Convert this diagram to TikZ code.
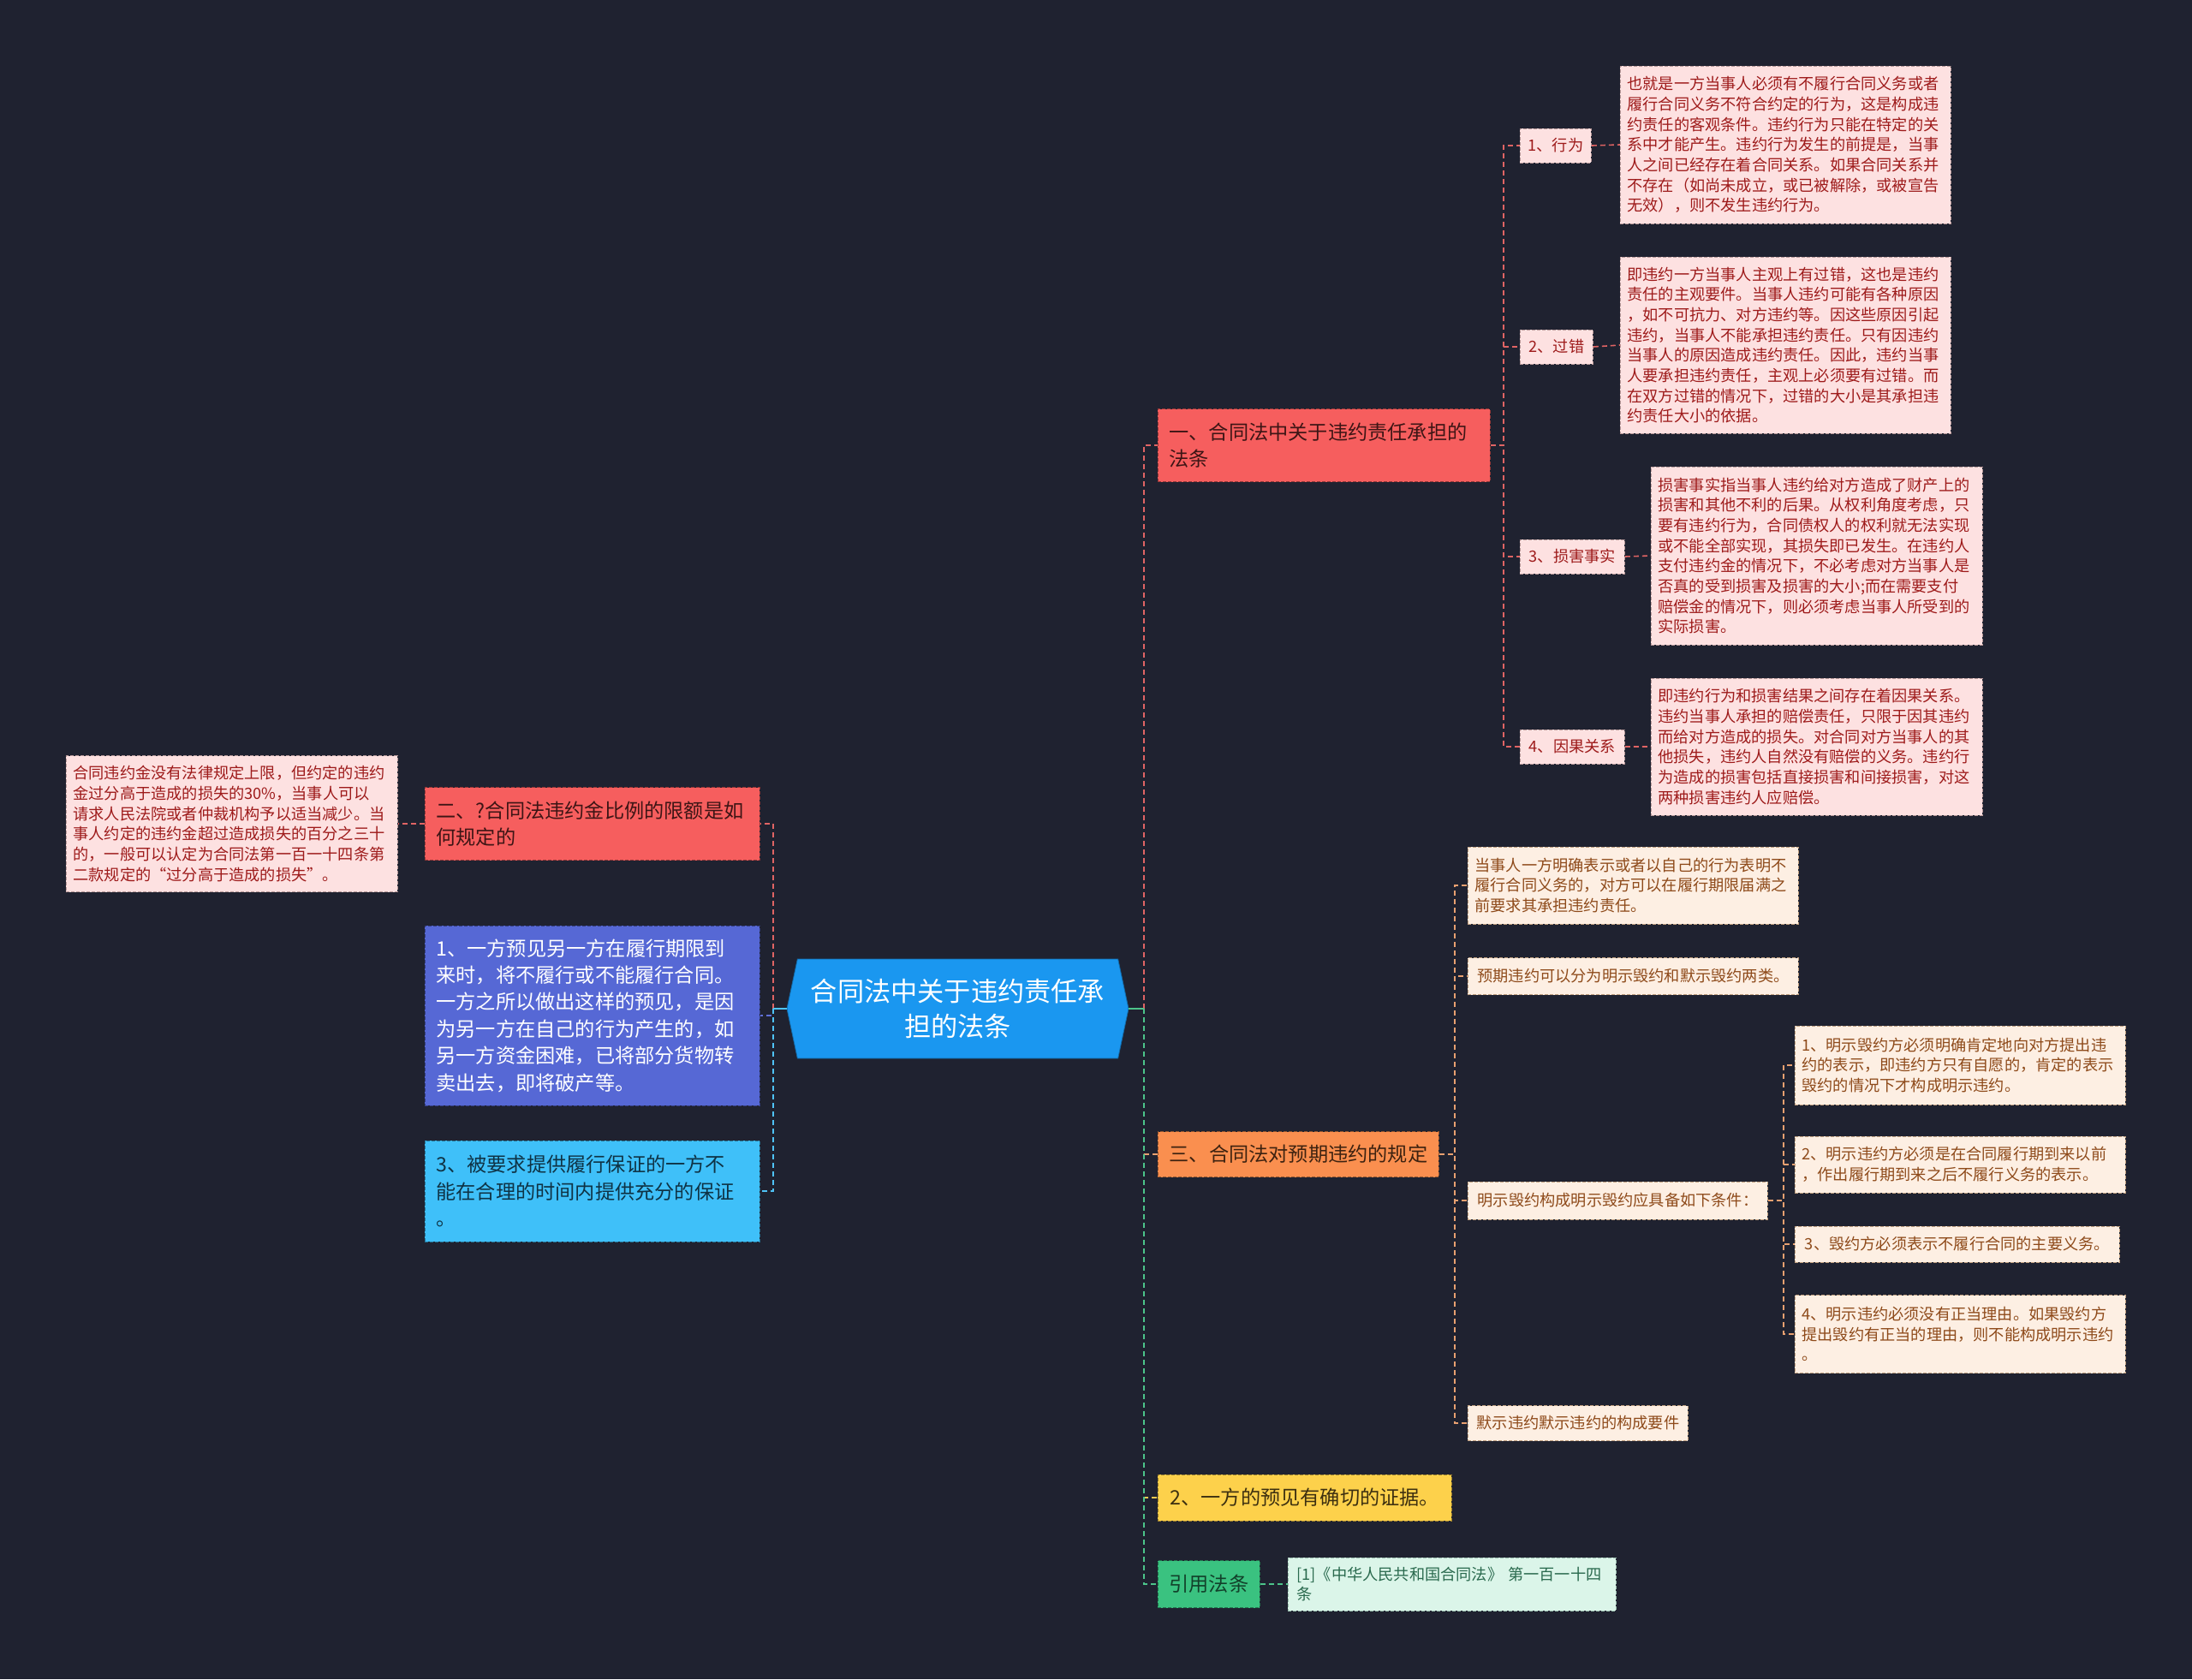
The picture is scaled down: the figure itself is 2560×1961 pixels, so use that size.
\documentclass[tikz,border=0pt]{standalone}
\usepackage{fontspec}
\setmainfont{Noto Sans CJK SC}
\usetikzlibrary{shapes.symbols,positioning}

\definecolor{bgnavy}{HTML}{1F2230}
\definecolor{rootblue}{HTML}{1A97F0}
\definecolor{redfill}{HTML}{F65E5E}
\definecolor{redtext}{HTML}{3D1515}
\definecolor{orafill}{HTML}{FA8F4F}
\definecolor{oratext}{HTML}{3D2210}
\definecolor{yelfill}{HTML}{FDD14B}
\definecolor{yeltext}{HTML}{3D3010}
\definecolor{grnfill}{HTML}{3AC280}
\definecolor{grntext}{HTML}{12402A}
\definecolor{indfill}{HTML}{5668D5}
\definecolor{skyfill}{HTML}{3FC0F9}
\definecolor{skytext}{HTML}{0F3345}
\definecolor{pinkfill}{HTML}{FDE1E1}
\definecolor{pinktext}{HTML}{9E1B1B}
\definecolor{pinkedge}{HTML}{B89A9A}
\definecolor{peachfill}{HTML}{FDEFE3}
\definecolor{peachtext}{HTML}{8E4A1A}
\definecolor{peachedge}{HTML}{C0A080}
\definecolor{mintfill}{HTML}{DBF5E9}
\definecolor{minttext}{HTML}{2A6A4E}
\definecolor{mintedge}{HTML}{9ABFAE}
\definecolor{linered}{HTML}{E06464}
\definecolor{lineora}{HTML}{E8A070}
\definecolor{lineyel}{HTML}{F0C850}
\definecolor{linegrn}{HTML}{4CC48A}
\definecolor{lineind}{HTML}{6070D8}
\definecolor{linesky}{HTML}{4FC3F7}

\newcommand\leafsize{\fontsize{9.1pt}{11.85pt}\selectfont}
\newcommand\branchsize{\fontsize{11.6pt}{15.7pt}\selectfont}
\newcommand\rootsize{\fontsize{15.6pt}{20.4pt}\selectfont}

\begin{document}
\begin{tikzpicture}[x=0.5pt,y=-0.5pt,
	box/.style={draw, dash pattern=on 2pt off 1pt, line width=0.4pt, inner xsep=6.5pt, inner ysep=0pt, align=left, anchor=west},
	root/.style={shape=signal, signal to=west and east, signal pointer angle=156, fill=rootblue, draw=rootblue!70!black, text=white, font=\rootsize, align=center, minimum width=199.5pt, minimum height=58pt, inner sep=0pt},
	redmain/.style={box, fill=redfill, draw=redfill!60!black, text=redtext, font=\branchsize},
	oramain/.style={box, fill=orafill, draw=orafill!60!black, text=oratext, font=\branchsize},
	yelmain/.style={box, fill=yelfill, draw=yelfill!60!black, text=yeltext, font=\branchsize},
	grnmain/.style={box, fill=grnfill, draw=grnfill!60!black, text=grntext, font=\branchsize},
	indmain/.style={box, fill=indfill, draw=indfill!60!black, text=white, font=\branchsize},
	skymain/.style={box, fill=skyfill, draw=skyfill!60!black, text=skytext, font=\branchsize},
	leafred/.style={box, inner xsep=4pt, fill=pinkfill, draw=pinkedge, text=pinktext, font=\leafsize},
	leafora/.style={box, inner xsep=4pt, fill=peachfill, draw=peachedge, text=peachtext, font=\leafsize},
	leafgrn/.style={box, inner xsep=5pt, fill=mintfill, draw=mintedge, text=minttext, font=\leafsize},
	link/.style={dash pattern=on 3pt off 2pt, line width=0.8pt},
	redline/.style={link, draw=linered},
	oraline/.style={link, draw=lineora},
	yelline/.style={link, draw=lineyel},
	grnline/.style={link, draw=linegrn},
	indline/.style={link, draw=lineind},
	skyline/.style={link, draw=linesky}]

	\useasboundingbox (0,0) rectangle (2560,1961);
	\fill[bgnavy] (0,0) rectangle (2560,1961);

	\node[root] (root) at (1118.5,1178) {合同法中关于违约责任承\\担的法条};
	\coordinate (rhub) at (1336,1178);
	\coordinate (lhub) at (903,1178);

	% right side
	\node[redmain, text width=181pt, minimum height=42.5pt] (r1) at (1352,520) {一、合同法中关于违约责任承担的\\法条};
	\node[oramain, minimum width=164pt, minimum height=26.5pt] (r2) at (1352,1348) {三、合同法对预期违约的规定};
	\node[yelmain, minimum width=171.5pt, minimum height=27pt] (r3) at (1352,1749) {2、一方的预见有确切的证据。};
	\node[grnmain, minimum width=59pt, minimum height=27.5pt] (r4) at (1352,1850) {引用法条};
	\node[leafgrn, text width=181.5pt, minimum height=31pt] (cite) at (1504,1850) {[1]《中华人民共和国合同法》 第一百一十四\\条};

	\node[leafred, minimum width=41.5pt, minimum height=20pt] (a1) at (1775,170) {1、行为};
	\node[leafred, text width=185pt, minimum height=92pt] (a1t) at (1892,169) {也就是一方当事人必须有不履行合同义务或者\\履行合同义务不符合约定的行为，这是构成违\\约责任的客观条件。违约行为只能在特定的关\\系中才能产生。违约行为发生的前提是，当事\\人之间已经存在着合同关系。如果合同关系并\\不存在（如尚未成立，或已被解除，或被宣告\\无效），则不发生违约行为。};
	\node[leafred, minimum width=42.5pt, minimum height=20pt] (a2) at (1775,405) {2、过错};
	\node[leafred, text width=185pt, minimum height=103pt] (a2t) at (1892,403) {即违约一方当事人主观上有过错，这也是违约\\责任的主观要件。当事人违约可能有各种原因\\，如不可抗力、对方违约等。因这些原因引起\\违约，当事人不能承担违约责任。只有因违约\\当事人的原因造成违约责任。因此，违约当事\\人要承担违约责任，主观上必须要有过错。而\\在双方过错的情况下，过错的大小是其承担违\\约责任大小的依据。};
	\node[leafred, minimum width=61pt, minimum height=20pt] (a3) at (1775,650) {3、损害事实};
	\node[leafred, text width=185.5pt, minimum height=104pt] (a3t) at (1928,649) {损害事实指当事人违约给对方造成了财产上的\\损害和其他不利的后果。从权利角度考虑，只\\要有违约行为，合同债权人的权利就无法实现\\或不能全部实现，其损失即已发生。在违约人\\支付违约金的情况下，不必考虑对方当事人是\\否真的受到损害及损害的大小;而在需要支付\\赔偿金的情况下，则必须考虑当事人所受到的\\实际损害。};
	\node[leafred, minimum width=61pt, minimum height=20pt] (a4) at (1775,872) {4、因果关系};
	\node[leafred, text width=185.5pt, minimum height=80pt] (a4t) at (1928,872) {即违约行为和损害结果之间存在着因果关系。\\违约当事人承担的赔偿责任，只限于因其违约\\而给对方造成的损失。对合同对方当事人的其\\他损失，违约人自然没有赔偿的义务。违约行\\为造成的损害包括直接损害和间接损害，对这\\两种损害违约人应赔偿。};

	\node[leafora, text width=185pt, minimum height=45pt] (b1) at (1714,1034) {当事人一方明确表示或者以自己的行为表明不\\履行合同义务的，对方可以在履行期限届满之\\前要求其承担违约责任。};
	\node[leafora, minimum width=193pt, minimum height=21.5pt] (b2) at (1714,1140) {预期违约可以分为明示毁约和默示毁约两类。};
	\node[leafora, minimum width=175pt, minimum height=22pt] (b3) at (1714,1402) {明示毁约构成明示毁约应具备如下条件：};
	\node[leafora, minimum width=128.5pt, minimum height=20.5pt] (b4) at (1714,1662) {默示违约默示违约的构成要件};
	\node[leafora, text width=185pt, minimum height=46pt] (c1) at (2096,1244) {1、明示毁约方必须明确肯定地向对方提出违\\约的表示，即违约方只有自愿的，肯定的表示\\毁约的情况下才构成明示违约。};
	\node[leafora, text width=185pt, minimum height=33pt] (c2) at (2096,1360) {2、明示违约方必须是在合同履行期到来以前\\，作出履行期到来之后不履行义务的表示。};
	\node[leafora, minimum width=189.5pt, minimum height=21pt] (c3) at (2096,1453) {3、毁约方必须表示不履行合同的主要义务。};
	\node[leafora, text width=185pt, minimum height=45.5pt] (c4) at (2096,1558) {4、明示违约必须没有正当理由。如果毁约方\\提出毁约有正当的理由，则不能构成明示违约\\。};

	% left side
	\node[redmain, text width=182.5pt, minimum height=42.5pt] (l1) at (496,962) {二、?合同法违约金比例的限额是如\\何规定的};
	\node[leafred, text width=185.5pt, minimum height=79.5pt] (l1t) at (77,962) {合同违约金没有法律规定上限，但约定的违约\\金过分高于造成的损失的30\%，当事人可以\\请求人民法院或者仲裁机构予以适当减少。当\\事人约定的违约金超过造成损失的百分之三十\\的，一般可以认定为合同法第一百一十四条第\\二款规定的“过分高于造成的损失”。};
	\node[indmain, text width=182.5pt, minimum height=105pt] (l2) at (496,1186) {1、一方预见另一方在履行期限到\\来时，将不履行或不能履行合同。\\一方之所以做出这样的预见，是因\\为另一方在自己的行为产生的，如\\另一方资金困难，已将部分货物转\\卖出去，即将破产等。};
	\node[skymain, text width=182.5pt, minimum height=59pt] (l3) at (496,1391) {3、被要求提供履行保证的一方不\\能在合理的时间内提供充分的保证\\。};

	\draw[redline] (rhub) |- (r1.west);
	\draw[oraline] (rhub) |- (r2.west);
	\draw[yelline] (rhub) |- (r3.west);
	\draw[grnline] (rhub) |- (r4.west);
	\draw[linegrn, line width=0.8pt] (root.east) -- (rhub);
	\draw[grnline] (r4.east) -- (cite.west);

	\draw[redline] (r1.east) -- ++(15,0) |- (a1.west);
	\draw[redline] (r1.east) -- ++(15,0) |- (a2.west);
	\draw[redline] (r1.east) -- ++(15,0) |- (a3.west);
	\draw[redline] (r1.east) -- ++(15,0) |- (a4.west);
	\draw[redline] (a1.east) -- (a1t.west)
		(a2.east) -- (a2t.west)
		(a3.east) -- (a3t.west)
		(a4.east) -- (a4t.west);

	\draw[oraline] (r2.east) -- ++(18,0) |- (b1.west);
	\draw[oraline] (r2.east) -- ++(18,0) |- (b2.west);
	\draw[oraline] (r2.east) -- ++(18,0) |- (b3.west);
	\draw[oraline] (r2.east) -- ++(18,0) |- (b4.west);
	\draw[oraline] (b3.east) -- ++(18,0) |- (c1.west);
	\draw[oraline] (b3.east) -- ++(18,0) |- (c2.west);
	\draw[oraline] (b3.east) -- ++(18,0) |- (c3.west);
	\draw[oraline] (b3.east) -- ++(18,0) |- (c4.west);

	\draw[redline] (lhub) |- (l1.east);
	\draw[indline] (lhub) |- (l2.east);
	\draw[skyline] (lhub) |- (l3.east);
	\draw[linesky, line width=0.8pt] (root.west) -- (lhub);
	\draw[redline] (l1.west) -- (l1t.east);

\end{tikzpicture}
\end{document}
